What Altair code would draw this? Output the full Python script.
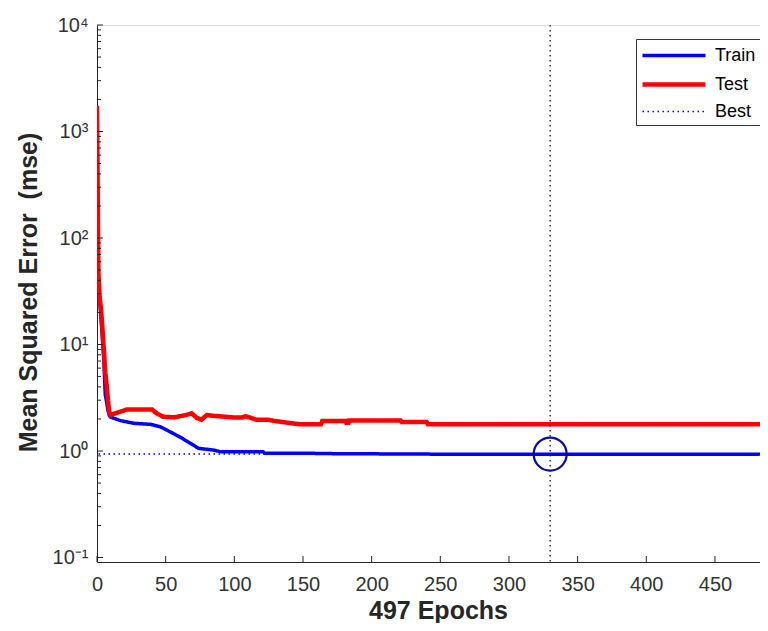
import altair as alt
import pandas as pd

FONT = "Liberation Sans"

# ---- data ----
train_epochs = [0, 1, 2, 3, 4, 5, 6, 7, 8, 9, 10, 17, 27, 39, 46, 51, 61, 70, 74, 85, 90, 121, 122, 148, 172, 244, 497]
train_values = [45, 38, 26, 17, 11, 7, 3.4, 2.9, 2.4, 2.15, 2.08, 1.93, 1.82, 1.78, 1.69, 1.57, 1.34, 1.14, 1.06, 1.02,
                0.985, 0.985, 0.955, 0.955, 0.945, 0.935, 0.935]

test_epochs = [0, 1, 2, 3, 4, 5, 6, 7, 8, 9, 10, 11, 17, 22, 40, 43.5, 48, 56, 65, 69, 72.6, 76, 80, 85, 99, 106, 108,
               111, 116, 124, 129, 138, 148, 163, 164, 181, 181.5, 183, 183.5, 221, 222, 240, 241, 497]
test_values = [1740, 48, 27, 21, 13.7, 8.9, 5.5, 4.2, 3.0, 2.3, 2.18, 2.21, 2.34, 2.46, 2.46, 2.26, 2.10, 2.07, 2.18,
               2.26, 2.05, 1.97, 2.18, 2.14, 2.07, 2.07, 2.12, 2.07, 1.97, 1.97, 1.92, 1.85, 1.78, 1.78, 1.91, 1.91,
               1.84, 1.84, 1.94, 1.94, 1.87, 1.87, 1.78, 1.78]

best_epoch = 330
best_value = 0.937

x_tick_values = [0, 50, 100, 150, 200, 250, 300, 350, 400, 450]
y_tick_values = [0.1, 1, 10, 100, 1000, 10000]
y_tick_labels = ["10⁻¹", "10⁰", "10¹", "10²", "10³", "10⁴"]
y_minor_values = [0.2, 0.3, 0.4, 0.5, 0.6, 0.7, 0.8, 0.9,
                  2, 3, 4, 5, 6, 7, 8, 9,
                  20, 30, 40, 50, 60, 70, 80, 90,
                  200, 300, 400, 500, 600, 700, 800, 900,
                  2000, 3000, 4000, 5000, 6000, 7000, 8000, 9000]

series_order = ["Train", "Test", "Best"]
series_colors = ["#0000ff", "#ff0000", "#0000ff"]
series_widths = [3.5, 4.5, 1.5]
series_dashes = [[1, 0], [1, 0], [1.5, 3.5]]

# ---- layout ----
W, H = 663, 537
X_MAX = 482.8
Y_MIN, Y_MAX = 0.0908, 10000
AXIS_COLOR = "#262626"

lines_df = pd.DataFrame(
    [{"epoch": e, "value": v, "series": "Train"} for e, v in zip(train_epochs, train_values)]
    + [{"epoch": e, "value": v, "series": "Test"} for e, v in zip(test_epochs, test_values)]
)
best_df = pd.DataFrame({"epoch": [best_epoch], "value": [best_value], "series": ["Best"]})
xt_df = pd.DataFrame({"epoch": x_tick_values})
yt_df = pd.DataFrame({"value": y_tick_values})
ym_df = pd.DataFrame({"value": y_minor_values})

xscale = alt.Scale(domain=[0, X_MAX], nice=False, zero=False)
yscale = alt.Scale(type="log", domain=[Y_MIN, Y_MAX], nice=False)

label_expr = "[" + ",".join("'%s'" % s for s in y_tick_labels) + "][indexof([" + \
    ",".join(str(v) for v in y_tick_values) + "], datum.value)]"

x_axis = alt.Axis(values=x_tick_values, ticks=False, tickSize=0, grid=False, title="497 Epochs",
                  labelFontSize=20, labelPadding=12, labelFont=FONT, labelColor="#333333",
                  titleFont=FONT, titleFontSize=25, titleFontWeight="bold", titleColor=AXIS_COLOR,
                  titleX=341, titleY=56, titleBaseline="alphabetic",
                  domainColor=AXIS_COLOR, domainWidth=1, labelFlush=False)
y_axis = alt.Axis(values=y_tick_values, ticks=False, tickSize=0, grid=False,
                  title="Mean Squared Error\u00a0 (mse)",
                  labelExpr=label_expr, labelFontSize=20, labelPadding=9, labelFont=FONT, labelColor="#333333",
                  titleFont=FONT, titleFontSize=25, titleFontWeight="bold", titleColor=AXIS_COLOR,
                  titleX=-61, titleY=267, titleBaseline="alphabetic", titleAngle=270,
                  domainColor=AXIS_COLOR, domainWidth=1, labelFlush=False)

legend = alt.Legend(title=None, orient="none", legendX=539, legendY=14,
                    symbolType="M-1,0H5", symbolSize=441,
                    labelFontSize=18, labelFont=FONT, labelColor="#000000", labelOffset=49, padding=4,
                    rowPadding=6.5, strokeColor="#333333", fillColor="#ffffff")

color = alt.Color("series:N", scale=alt.Scale(domain=series_order, range=series_colors), legend=legend)
swidth = alt.StrokeWidth("series:N", scale=alt.Scale(type="ordinal", domain=series_order, range=series_widths),
                         legend=legend)
sdash = alt.StrokeDash("series:N", scale=alt.Scale(domain=series_order, range=series_dashes), legend=legend)

base = alt.Chart(lines_df)

train_line = base.transform_filter(alt.datum.series == "Train").mark_line(clip=True, strokeCap="butt").encode(
    x=alt.X("epoch:Q", scale=xscale, axis=x_axis),
    y=alt.Y("value:Q", scale=yscale, axis=y_axis),
    color=color, strokeWidth=swidth, strokeDash=sdash,
)
test_line = base.transform_filter(alt.datum.series == "Test").mark_line(clip=True, strokeCap="butt").encode(
    x=alt.X("epoch:Q", scale=xscale),
    y=alt.Y("value:Q", scale=yscale),
    color=color, strokeWidth=swidth, strokeDash=sdash,
)
best_h = alt.Chart(best_df).mark_rule(clip=True).encode(
    y=alt.Y("value:Q", scale=yscale),
    color=color, strokeWidth=swidth, strokeDash=sdash,
)
best_v = alt.Chart(best_df).mark_rule(clip=True, color="#141450", strokeWidth=1.3, strokeDash=[1.5, 3.5]).encode(
    x=alt.X("epoch:Q", scale=xscale),
)
best_pt = alt.Chart(best_df).mark_point(shape="circle", size=1090, filled=False, strokeWidth=2.2,
                                        color="#0c0c9c", opacity=1).encode(
    x=alt.X("epoch:Q", scale=xscale),
    y=alt.Y("value:Q", scale=yscale),
)
x_ticks = alt.Chart(xt_df).mark_rule(color=AXIS_COLOR, strokeWidth=1).encode(
    x=alt.X("epoch:Q", scale=xscale),
    y=alt.value(H), y2=alt.value(H - 6),
)
y_ticks = alt.Chart(yt_df).mark_rule(color=AXIS_COLOR, strokeWidth=1).encode(
    y=alt.Y("value:Q", scale=yscale),
    x=alt.value(0), x2=alt.value(6),
)
y_minor = alt.Chart(ym_df).mark_rule(color=AXIS_COLOR, strokeWidth=1).encode(
    y=alt.Y("value:Q", scale=yscale),
    x=alt.value(0), x2=alt.value(4),
)

chart = alt.layer(train_line, test_line, best_h, best_v, best_pt, x_ticks, y_ticks, y_minor).properties(
    width=W, height=H,
    padding={"left": 89, "top": 17, "right": 0, "bottom": 61},
    autosize=alt.AutoSizeParams(type="none"),
).configure_view(stroke=None).configure(background="#ffffff")

chart.save("out.html", embed_options={"renderer": "svg", "actions": False})
